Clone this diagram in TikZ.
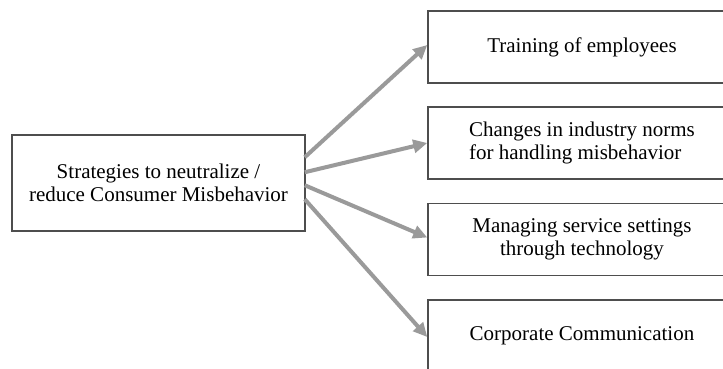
\documentclass[tikz,border=0pt]{standalone}
\usepackage{fontspec}
\setmainfont{Liberation Serif}
\usetikzlibrary{arrows.meta,calc}
\definecolor{boxline}{HTML}{4E4E4E}
\definecolor{arrowgray}{HTML}{9A9A9A}
\begin{document}
\begin{tikzpicture}[x=1pt,y=-1pt,
  box/.style={draw=boxline,line width=1.5pt,fill=white,align=center,
    inner sep=0pt,font=\fontsize{21}{23.5}\selectfont},
  leftbox/.style={box,minimum width=293pt,minimum height=96pt},
  rightbox/.style={box,minimum width=308pt,minimum height=72pt},
  link/.style={draw=arrowgray,line width=4pt,
    -{Triangle[length=14pt,width=13pt]}}]
\clip (0,0) rectangle (723,369);
\fill[white] (0,0) rectangle (723,369);

% source box
\node[leftbox] (src) at (158.5,183) {Strategies to neutralize /\\reduce Consumer Misbehavior};

% target boxes
\node[rightbox] (t1) at (582,47)    {Training of employees};
\node[rightbox,align=left] (t2) at (582,143) {Changes in industry norms\\for handling misbehavior};
\node[rightbox] (t3) at (582,239.5) {Managing service settings\\through technology};
\node[rightbox] (t4) at (582,336)   {Corporate Communication};

% arrow start points along the right side of the source box
\coordinate (s1) at ($(src.north east)+(-1,23)$);
\coordinate (s2) at ($(src.north east)+(-1,38)$);
\coordinate (s3) at ($(src.north east)+(-1,51)$);
\coordinate (s4) at ($(src.north east)+(-1,65)$);

\draw[link] (s1) -- ($(t1.west)+(0,-2)$);
\draw[link] (s2) -- (t2.west);
\draw[link] (s3) -- ($(t3.west)+(0,-2)$);
\draw[link] (s4) -- ($(t4.west)+(0,1)$);
\end{tikzpicture}
\end{document}
